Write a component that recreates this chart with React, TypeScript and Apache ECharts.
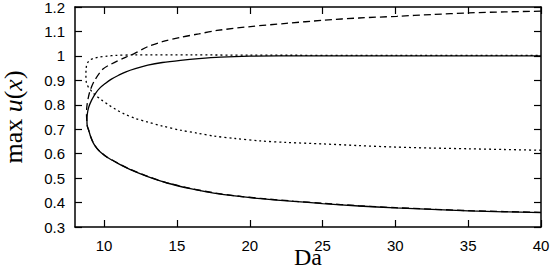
import React, { useEffect, useRef } from "react";
import * as echarts from "echarts";

// Tick labels
const xTicks = [10, 15, 20, 25, 30, 35, 40];
const yMin = 0.3;
const yMax = 1.2;
const xMin = 8;
const xMax = 40;

// Solid curve: [Da, max u]
const solidLower: [number, number][] = [
  [8.82, 0.737], [8.84, 0.715], [8.94, 0.696], [9.1, 0.665], [9.28, 0.641], [9.5, 0.622],
  [9.74, 0.607], [10.2, 0.585], [10.65, 0.57], [11.2, 0.552], [11.8, 0.535], [12.95, 0.507],
  [14.32, 0.48], [15.92, 0.457], [17.53, 0.439], [19.13, 0.426], [20.74, 0.416], [23, 0.405],
  [25, 0.396], [27.5, 0.386], [30, 0.378], [32.5, 0.372], [35, 0.366], [37.5, 0.362], [40, 0.359],
];
const solidUpper: [number, number][] = [
  [8.82, 0.737], [8.84, 0.76], [8.94, 0.79], [9.15, 0.82], [9.4, 0.846], [9.7, 0.868],
  [10.08, 0.887], [10.5, 0.905], [11, 0.921], [11.5, 0.935], [12.14, 0.948], [13, 0.962],
  [14, 0.973], [15.25, 0.982], [16.5, 0.989], [18, 0.995], [20, 0.999], [22, 1.0], [40, 1.0],
];

// Dashed curve
const dashedLower: [number, number][] = [
  [8.79, 0.76], [8.81, 0.735], [8.84, 0.714], [8.94, 0.696], [9.1, 0.666], [9.28, 0.642],
  [9.5, 0.623], [9.74, 0.608], [10.2, 0.586], [10.65, 0.571], [11.2, 0.553], [11.8, 0.536],
  [12.95, 0.508], [14.32, 0.481], [15.92, 0.458], [17.53, 0.44], [19.13, 0.427], [20.74, 0.417],
  [23, 0.406], [25, 0.397], [27.5, 0.387], [30, 0.379], [32.5, 0.373], [35, 0.367], [37.5, 0.363], [40, 0.36],
];
const dashedUpper: [number, number][] = [
  [8.79, 0.76], [8.81, 0.79], [8.9, 0.825], [9.05, 0.86], [9.35, 0.9], [9.9, 0.945],
  [10.5, 0.967], [11.5, 0.995], [12.1, 1.01], [13, 1.038], [14, 1.058], [15.25, 1.076],
  [16.5, 1.09], [17.75, 1.104], [20.05, 1.12], [22.5, 1.133], [25.1, 1.146], [27.5, 1.155],
  [30.1, 1.162], [32.5, 1.169], [35.05, 1.176], [37.5, 1.18], [40, 1.183],
];

// Dotted curve
const dottedLower: [number, number][] = [
  [8.75, 0.92], [8.77, 0.895], [8.85, 0.88], [8.94, 0.87], [9.3, 0.845], [9.86, 0.818],
  [10.3, 0.8], [10.8, 0.781], [11.4, 0.762], [12.1, 0.745], [12.95, 0.73], [14, 0.713],
  [15.24, 0.696], [16.4, 0.684], [17.53, 0.672], [19, 0.662], [20.74, 0.652], [22.5, 0.646],
  [25, 0.64], [27.5, 0.633], [30, 0.627], [32.5, 0.623], [35, 0.62], [37.5, 0.617], [40, 0.614],
];
const dottedUpper: [number, number][] = [
  [8.75, 0.92], [8.76, 0.945], [8.8, 0.962], [8.9, 0.975], [9.05, 0.984], [9.3, 0.99],
  [9.62, 0.995], [10.2, 0.999], [10.8, 1.002], [12, 1.004], [16, 1.004], [20, 1.003],
  [30, 1.002], [40, 1.002],
];

const curve = (lower: [number, number][], upper: [number, number][]) => [
  ...lower.slice().reverse(),
  ...upper.slice(1),
];

export default function App() {
  const ref = useRef<HTMLDivElement>(null);
  useEffect(() => {
    if (!ref.current) return;
    const chart = echarts.init(ref.current, null, { renderer: "svg" });
    const sans = "Liberation Sans";
    const serif = "Liberation Serif";
    const axisLine = { show: true, lineStyle: { color: "#000", width: 1.5 } };
    const tick = { show: true, inside: true, length: 7, lineStyle: { color: "#000", width: 1.2 } };
    const lineSeries = (data: [number, number][], type: any) => ({
      type: "line",
      data,
      showSymbol: false,
      smooth: 0.3,
      xAxisIndex: 0,
      yAxisIndex: 0,
      lineStyle: { color: "#000", width: 1.3, type },
      z: 3,
    });
    chart.setOption({
      animation: false,
      grid: {
        left: 75,
        right: 13,
        top: 7,
        bottom: 47,
        containLabel: false,
        outerBoundsMode: "none",
      },
      xAxis: [
        {
          type: "value",
          min: xMin,
          max: xMax,
          position: "bottom",
          name: "Da",
          nameLocation: "middle",
          nameGap: 18,
          nameMoveOverlap: false,
          nameTextStyle: { fontFamily: serif, fontSize: 24, color: "#000" },
          axisLine,
          axisTick: { ...tick, customValues: xTicks },
          axisLabel: {
            customValues: xTicks,
            fontFamily: sans,
            fontSize: 15,
            color: "#000",
            margin: 11,
          },
          splitLine: { show: false },
        },
        {
          type: "value",
          min: xMin,
          max: xMax,
          position: "top",
          axisLine,
          axisTick: { ...tick, customValues: xTicks },
          axisLabel: { show: false },
          splitLine: { show: false },
        },
      ],
      yAxis: [
        {
          type: "value",
          min: yMin,
          max: yMax,
          interval: 0.1,
          position: "left",
          name: "{a|max }{b|u}{a|(}{b|x}{a|)}",
          nameLocation: "middle",
          nameGap: 49,
          nameMoveOverlap: false,
          nameRotate: 90,
          nameTextStyle: {
            rich: {
              a: { fontFamily: serif, fontSize: 26, color: "#000" },
              b: { fontFamily: serif, fontSize: 26, fontStyle: "italic", color: "#000" },
            },
          },
          axisLine,
          axisTick: tick,
          axisLabel: {
            fontFamily: sans,
            fontSize: 15,
            color: "#000",
            margin: 10,
            formatter: (v: number) => String(Math.round(v * 10) / 10),
          },
          splitLine: { show: false },
        },
        {
          type: "value",
          min: yMin,
          max: yMax,
          interval: 0.1,
          position: "right",
          axisLine,
          axisTick: tick,
          axisLabel: { show: false },
          splitLine: { show: false },
        },
      ],
      series: [
        lineSeries(curve(solidLower, solidUpper), "solid"),
        lineSeries(curve(dashedLower, dashedUpper), [7, 4]),
        lineSeries(curve(dottedLower, dottedUpper), [2, 3]),
      ],
    });
    return () => chart.dispose();
  }, []);
  return (
    <div
      ref={ref}
      style={{ position: "fixed", left: 0, top: 0, width: 554, height: 274, background: "#fff" }}
    />
  );
}
